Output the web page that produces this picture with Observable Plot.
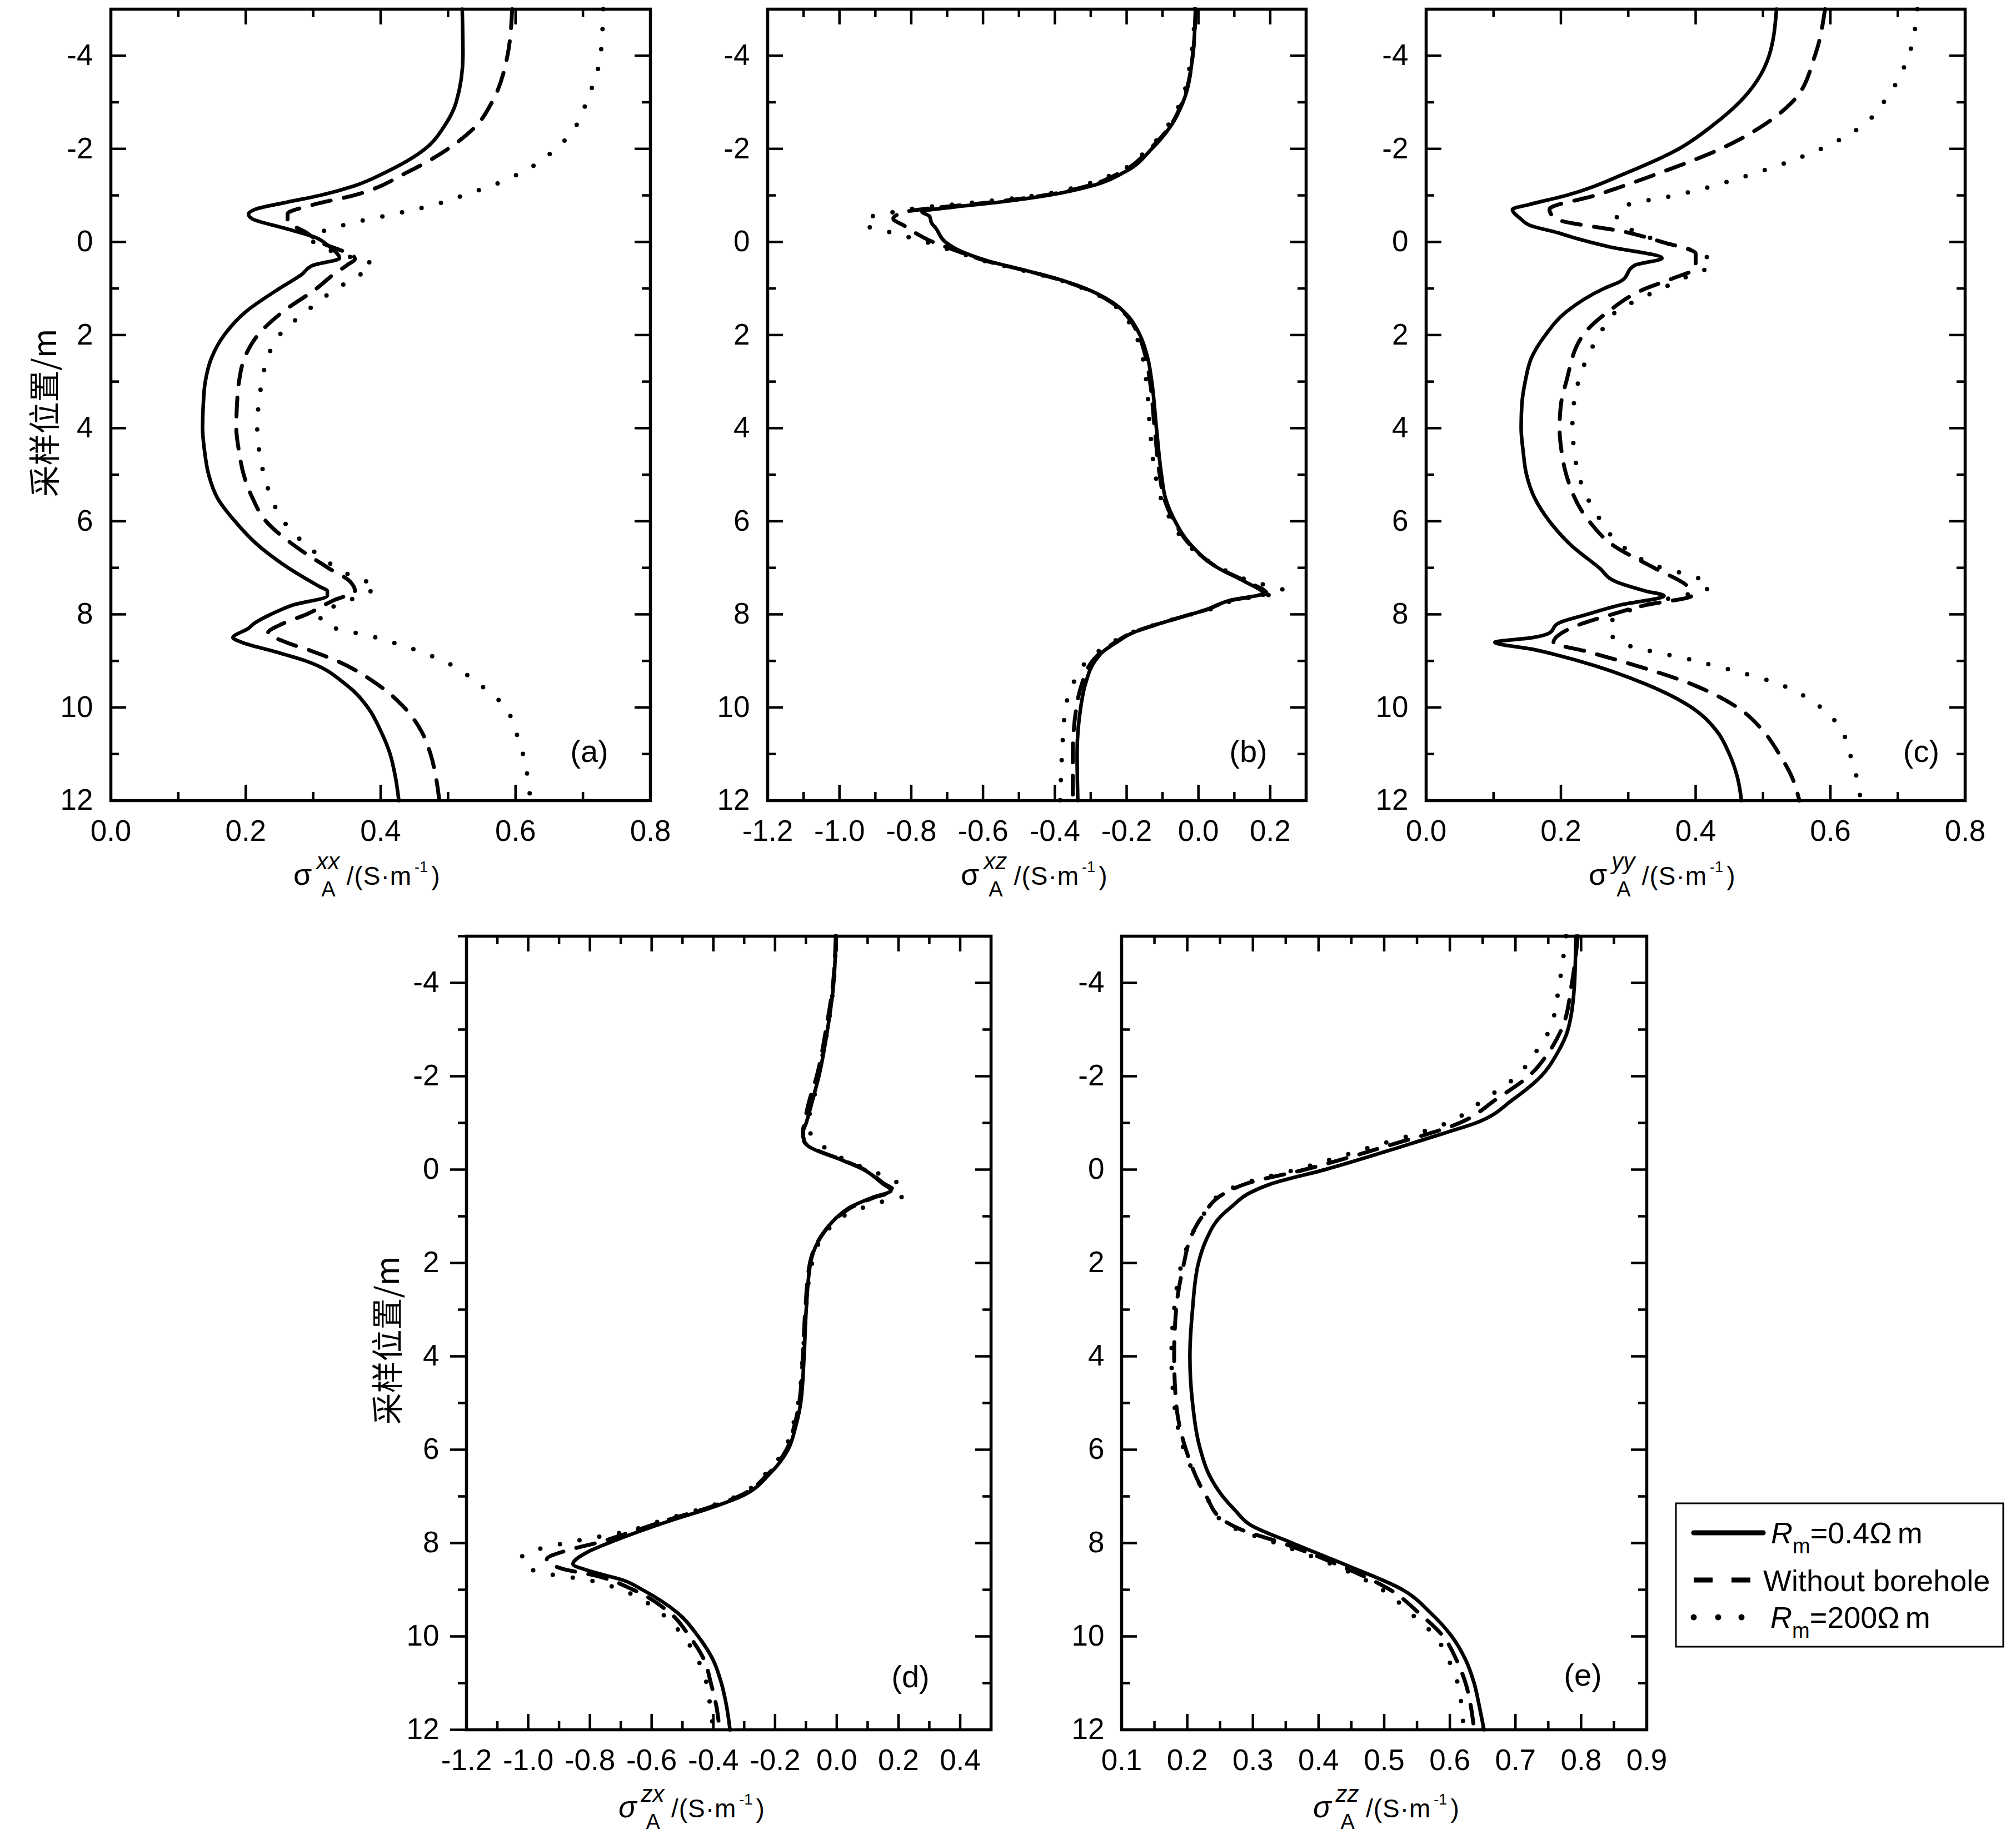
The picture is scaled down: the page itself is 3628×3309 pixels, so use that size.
<!DOCTYPE html>
<html><head><meta charset="utf-8">
<script src="https://cdn.jsdelivr.net/npm/d3@7"></script>
<script src="https://cdn.jsdelivr.net/npm/@observablehq/plot@0.6"></script>
<style>
html,body{margin:0;padding:0;background:#fff;}
#root{position:relative;width:3628px;height:3309px;background:#fff;overflow:hidden;}
</style></head><body><div id="root"></div>
<script>
// ---------- tick values ----------
const depthMajor = [-4,-2,0,2,4,6,8,10,12];
const depthMinor = [-5,-3,-1,1,3,5,7,9,11];
const xMajorAC = [0,0.2,0.4,0.6,0.8];
const xMinorAC = [0.1,0.3,0.5,0.7];
const xMajorB = [-1.2,-1.0,-0.8,-0.6,-0.4,-0.2,0,0.2];
const xMinorB = [-1.1,-0.9,-0.7,-0.5,-0.3,-0.1,0.1,0.3];
const xMajorD = [-1.2,-1.0,-0.8,-0.6,-0.4,-0.2,0,0.2,0.4];
const xMinorD = [-1.1,-0.9,-0.7,-0.5,-0.3,-0.1,0.1,0.3,0.5];
const xMajorE = [0.1,0.2,0.3,0.4,0.5,0.6,0.7,0.8,0.9];
const xMinorE = [0.15,0.25,0.35,0.45,0.55,0.65,0.75,0.85];
const seriesNames = ["Rm=0.4Ωm","Without borehole","Rm=200Ωm"];

// ---------- data: [depth (m), sigma (S/m)] ----------
const aSolid = [[-5,0.521],[-4,0.522],[-3,0.512],[-2.5,0.495],[-2,0.466],[-1.5,0.408],[-1.2,0.36],[-1,0.31],[-0.85,0.26],[-0.7,0.214],[-0.6,0.204],[-0.5,0.209],[-0.3,0.256],[-0.1,0.303],[0.1,0.324],[0.35,0.339],[0.5,0.30],[0.7,0.283],[1,0.25],[1.5,0.20],[2,0.168],[2.5,0.149],[3,0.14],[3.5,0.137],[4,0.136],[4.5,0.139],[5,0.145],[5.5,0.158],[6,0.184],[6.5,0.217],[7,0.263],[7.4,0.309],[7.5,0.321],[7.6,0.321],[7.8,0.27],[8,0.237],[8.2,0.212],[8.3,0.204],[8.5,0.181],[8.6,0.194],[8.8,0.243],[9,0.289],[9.5,0.348],[10,0.381],[10.5,0.40],[11,0.414],[11.5,0.422],[12,0.427]];
const aDashed = [[-5,0.595],[-4,0.588],[-3,0.565],[-2.5,0.542],[-2,0.50],[-1.5,0.44],[-1,0.36],[-0.8,0.30],[-0.6,0.262],[-0.45,0.262],[-0.2,0.29],[0,0.31],[0.36,0.362],[0.5,0.35],[0.7,0.33],[1,0.305],[1.5,0.255],[2,0.218],[2.5,0.198],[3,0.19],[3.5,0.187],[4,0.186],[4.5,0.19],[5,0.197],[5.5,0.21],[6,0.23],[6.5,0.27],[7,0.322],[7.3,0.355],[7.5,0.362],[7.7,0.33],[8,0.29],[8.2,0.255],[8.4,0.233],[8.6,0.26],[8.8,0.30],[9,0.335],[9.5,0.395],[10,0.435],[10.5,0.46],[11,0.474],[11.5,0.482],[12,0.487]];
const aDotted = [[-5,0.73],[-4,0.726],[-3,0.705],[-2.5,0.69],[-2,0.66],[-1.5,0.61],[-1.25,0.572],[-1,0.523],[-0.8,0.48],[-0.6,0.42],[-0.45,0.37],[-0.3,0.33],[-0.1,0.297],[0.1,0.31],[0.3,0.35],[0.49,0.388],[0.7,0.37],[1,0.335],[1.5,0.289],[2,0.25],[2.5,0.232],[3,0.224],[3.5,0.219],[4,0.217],[4.5,0.22],[5,0.227],[5.5,0.238],[6,0.256],[6.5,0.289],[7,0.335],[7.2,0.36],[7.4,0.394],[7.6,0.37],[7.8,0.335],[8,0.31],[8.2,0.315],[8.5,0.394],[9,0.493],[9.5,0.546],[10,0.585],[10.5,0.60],[11,0.611],[11.5,0.618],[12,0.622]];

const bSolid = [[-5,-0.008],[-4,-0.016],[-3,-0.043],[-2.5,-0.076],[-2,-0.13],[-1.5,-0.206],[-1.2,-0.30],[-1,-0.42],[-0.85,-0.56],[-0.75,-0.68],[-0.65,-0.77],[-0.55,-0.749],[-0.4,-0.743],[-0.3,-0.732],[0,-0.705],[0.2,-0.662],[0.4,-0.59],[0.6,-0.488],[0.8,-0.39],[1,-0.315],[1.3,-0.239],[1.6,-0.195],[2,-0.163],[2.5,-0.141],[3,-0.13],[4,-0.117],[5,-0.103],[5.5,-0.092],[6,-0.065],[6.5,-0.022],[7,0.054],[7.3,0.13],[7.55,0.18],[7.7,0.087],[7.9,0.022],[8,-0.022],[8.2,-0.109],[8.4,-0.184],[8.6,-0.228],[8.8,-0.266],[9,-0.288],[9.5,-0.315],[10,-0.328],[11,-0.338],[12,-0.336]];
const bDashed = [[-5,-0.008],[-4,-0.016],[-3,-0.045],[-2.5,-0.078],[-2,-0.135],[-1.5,-0.215],[-1.2,-0.31],[-1,-0.43],[-0.85,-0.58],[-0.72,-0.75],[-0.65,-0.815],[-0.5,-0.85],[-0.35,-0.82],[-0.2,-0.79],[0,-0.74],[0.2,-0.67],[0.4,-0.595],[0.6,-0.49],[0.8,-0.392],[1,-0.317],[1.3,-0.242],[1.6,-0.198],[2,-0.167],[2.5,-0.146],[3,-0.135],[4,-0.122],[5,-0.108],[5.5,-0.096],[6,-0.068],[6.5,-0.024],[7,0.055],[7.3,0.135],[7.55,0.19],[7.7,0.09],[7.9,0.022],[8,-0.022],[8.2,-0.11],[8.4,-0.186],[8.6,-0.232],[8.8,-0.27],[9,-0.295],[9.5,-0.325],[10,-0.34],[11,-0.35],[12,-0.35]];
const bDotted = [[-5,-0.01],[-4,-0.02],[-3,-0.05],[-2.5,-0.085],[-2,-0.14],[-1.5,-0.225],[-1.2,-0.33],[-1,-0.45],[-0.85,-0.62],[-0.72,-0.79],[-0.6,-0.875],[-0.5,-0.93],[-0.35,-0.925],[-0.23,-0.87],[0,-0.76],[0.2,-0.68],[0.4,-0.60],[0.6,-0.495],[0.8,-0.395],[1,-0.32],[1.3,-0.245],[1.6,-0.205],[2,-0.175],[2.5,-0.155],[3,-0.145],[4,-0.135],[5,-0.12],[5.5,-0.105],[6,-0.075],[6.5,-0.03],[7,0.06],[7.3,0.15],[7.5,0.24],[7.7,0.10],[7.9,0.03],[8,-0.02],[8.2,-0.11],[8.4,-0.19],[8.6,-0.24],[8.8,-0.28],[9,-0.31],[9.5,-0.35],[10,-0.37],[11,-0.38],[12,-0.385]];

const cSolid = [[-5,0.52],[-4,0.509],[-3,0.465],[-2.5,0.425],[-2,0.375],[-1.5,0.30],[-1,0.208],[-0.8,0.152],[-0.7,0.128],[-0.5,0.14],[-0.35,0.155],[-0.2,0.195],[-0.1,0.217],[0.1,0.27],[0.35,0.35],[0.5,0.31],[0.85,0.288],[1,0.264],[1.5,0.208],[2,0.177],[2.5,0.156],[3,0.147],[3.5,0.142],[4,0.141],[4.5,0.144],[5,0.149],[5.5,0.161],[6,0.183],[6.5,0.214],[7,0.257],[7.3,0.282],[7.5,0.326],[7.6,0.353],[7.8,0.288],[8,0.239],[8.2,0.195],[8.4,0.183],[8.5,0.158],[8.6,0.102],[8.75,0.158],[9,0.226],[9.5,0.326],[10,0.394],[10.5,0.431],[11,0.45],[11.5,0.462],[12,0.468]];
const cDashed = [[-5,0.592],[-4,0.577],[-3,0.543],[-2.5,0.50],[-2,0.437],[-1.5,0.35],[-1,0.251],[-0.7,0.183],[-0.5,0.192],[-0.2,0.30],[0,0.35],[0.25,0.40],[0.55,0.40],[0.8,0.363],[1,0.326],[1.5,0.27],[2,0.233],[3,0.208],[3.5,0.2],[4,0.198],[4.5,0.201],[5,0.208],[6,0.242],[6.5,0.276],[7,0.338],[7.4,0.388],[7.6,0.394],[7.8,0.326],[8,0.276],[8.3,0.214],[8.6,0.189],[8.8,0.239],[9,0.288],[9.5,0.394],[10,0.462],[10.5,0.50],[11,0.524],[11.5,0.543],[12,0.554]];
const cDotted = [[-5,0.729],[-4,0.716],[-3,0.679],[-2.5,0.648],[-2,0.586],[-1.5,0.493],[-1,0.369],[-0.8,0.30],[-0.6,0.282],[-0.3,0.30],[0,0.35],[0.2,0.40],[0.5,0.425],[0.7,0.394],[1,0.35],[1.5,0.282],[2,0.257],[3,0.226],[3.5,0.219],[4,0.217],[4.5,0.22],[5,0.226],[6,0.26],[6.5,0.288],[7,0.35],[7.2,0.40],[7.4,0.422],[7.7,0.35],[8,0.288],[8.3,0.27],[8.6,0.288],[9,0.40],[9.5,0.524],[10,0.586],[10.5,0.617],[11,0.629],[11.5,0.639],[12,0.645]];

const dSolid = [[-5,-0.003],[-4,-0.01],[-3,-0.03],[-2,-0.058],[-1.5,-0.078],[-1,-0.099],[-0.8,-0.109],[-0.6,-0.106],[-0.5,-0.092],[-0.2,0.018],[0,0.087],[0.3,0.148],[0.45,0.176],[0.6,0.114],[0.8,0.045],[1,0.004],[1.3,-0.037],[1.6,-0.065],[2,-0.085],[3,-0.099],[4,-0.106],[5,-0.117],[5.5,-0.133],[6,-0.158],[6.5,-0.215],[7,-0.31],[7.25,-0.41],[7.5,-0.53],[7.75,-0.64],[8,-0.74],[8.2,-0.81],[8.45,-0.855],[8.6,-0.80],[8.8,-0.69],[9,-0.63],[9.5,-0.515],[10,-0.449],[10.5,-0.401],[11,-0.374],[11.5,-0.357],[12,-0.346]];
const dDashed = [[-5,-0.003],[-4,-0.012],[-3,-0.035],[-2,-0.065],[-1.5,-0.088],[-1,-0.105],[-0.8,-0.11],[-0.6,-0.105],[-0.5,-0.09],[-0.2,0.02],[0,0.09],[0.3,0.153],[0.45,0.185],[0.6,0.12],[0.8,0.05],[1,0.006],[1.3,-0.037],[1.6,-0.066],[2,-0.087],[3,-0.102],[4,-0.11],[5,-0.122],[5.5,-0.138],[6,-0.163],[6.5,-0.22],[7,-0.318],[7.25,-0.42],[7.5,-0.545],[7.75,-0.66],[8,-0.78],[8.15,-0.87],[8.35,-0.94],[8.55,-0.89],[8.7,-0.78],[9,-0.66],[9.5,-0.54],[10,-0.477],[10.5,-0.43],[11,-0.408],[11.5,-0.39],[12,-0.38]];
const dDotted = [[-5,-0.003],[-4,-0.01],[-3,-0.03],[-2,-0.06],[-1.5,-0.075],[-1,-0.092],[-0.7,-0.08],[-0.5,-0.045],[-0.2,0.03],[0.1,0.14],[0.3,0.20],[0.55,0.22],[0.7,0.14],[0.9,0.05],[1,0.02],[1.3,-0.03],[1.6,-0.06],[2,-0.08],[3,-0.10],[4,-0.11],[5,-0.125],[5.5,-0.143],[6,-0.17],[6.5,-0.228],[7,-0.325],[7.25,-0.43],[7.5,-0.56],[7.75,-0.68],[7.95,-0.84],[8.1,-0.95],[8.3,-1.02],[8.5,-1.01],[8.65,-0.944],[8.8,-0.80],[9,-0.70],[9.5,-0.57],[10,-0.497],[10.5,-0.45],[11,-0.422],[11.5,-0.41],[12,-0.40]];

const eSolid = [[-5,0.792],[-4,0.79],[-3,0.78],[-2.5,0.764],[-2,0.739],[-1.5,0.696],[-1,0.64],[-0.8,0.596],[-0.5,0.528],[0,0.41],[0.3,0.329],[0.5,0.295],[0.8,0.267],[1,0.251],[1.5,0.229],[2,0.217],[3,0.208],[4,0.204],[5,0.208],[6,0.22],[6.5,0.232],[7,0.254],[7.3,0.273],[7.6,0.295],[8,0.36],[8.5,0.447],[9,0.528],[9.5,0.571],[10,0.603],[10.5,0.624],[11,0.637],[11.5,0.645],[12,0.652]];
const eDashed = [[-5,0.795],[-4,0.786],[-3,0.77],[-2.5,0.75],[-2,0.72],[-1.5,0.67],[-1,0.615],[-0.5,0.503],[0,0.379],[0.3,0.29],[0.5,0.258],[1,0.223],[1.5,0.204],[2,0.195],[3,0.183],[4,0.18],[5,0.183],[6,0.198],[7,0.229],[7.5,0.254],[7.7,0.28],[8,0.345],[8.5,0.435],[9,0.509],[9.5,0.553],[10,0.59],[10.5,0.61],[11,0.624],[11.5,0.632],[12,0.637]];
const eDotted = [[-5,0.777],[-4,0.767],[-3,0.752],[-2.5,0.73],[-2,0.702],[-1.5,0.652],[-1,0.596],[-0.5,0.484],[0,0.366],[0.3,0.285],[0.5,0.254],[1,0.223],[2,0.192],[3,0.18],[4,0.176],[5,0.18],[6,0.195],[7,0.229],[7.5,0.251],[7.7,0.275],[8,0.335],[8.5,0.428],[9,0.497],[9.5,0.54],[10,0.578],[10.5,0.598],[11,0.612],[11.5,0.618],[12,0.621]];

// ---------- panels ----------
const panels = [
  {tag:"(a)", left:199, top:16, W:971, H:1424, xDomain:[0,0.8], xMajor:xMajorAC, xMinor:xMinorAC, solid:aSolid, dashed:aDashed, dotted:aDotted, tagDx:110, tagDy:70, yPad:32, outLeft:false},
  {tag:"(b)", left:1381, top:16, W:969, H:1424, xDomain:[-1.2,0.3], xMajor:xMajorB, xMinor:xMinorB, solid:bSolid, dashed:bDashed, dotted:bDotted, tagDx:104, tagDy:70, yPad:32, outLeft:false},
  {tag:"(c)", left:2566, top:16, W:970, H:1424, xDomain:[0,0.8], xMajor:xMajorAC, xMinor:xMinorAC, solid:cSolid, dashed:cDashed, dotted:cDotted, tagDx:79, tagDy:70, yPad:32, outLeft:false},
  {tag:"(d)", left:839, top:1684, W:944, H:1428, xDomain:[-1.2,0.5], xMajor:xMajorD, xMinor:xMinorD, solid:dSolid, dashed:dDashed, dotted:dDotted, tagDx:145, tagDy:77, yPad:49, outLeft:true},
  {tag:"(e)", left:2018, top:1684, W:945, H:1428, xDomain:[0.1,0.9], xMajor:xMajorE, xMinor:xMinorE, solid:eSolid, dashed:eDashed, dotted:eDotted, tagDx:115, tagDy:80, yPad:31, outLeft:false}
];

const root = document.getElementById("root");
const FONT = "'Liberation Sans', Arial, Helvetica, sans-serif";

function makePanel(p) {
  const ml = 230, mr = 40, mt = 40, mb = 120;
  const W = p.W, H = p.H;
  const major = 28, minor = 15, tw = 4.5;
  const acc = {x: d => d[1], y: d => d[0], curve: "monotone-y", stroke: "black", fill: "none"};
  const tk = {stroke: "black", strokeWidth: tw};
  const leftTicks = p.outLeft
    ? [Plot.ruleY(depthMajor, {...tk, insetLeft: -29, insetRight: W}),
       Plot.ruleY(depthMinor, {...tk, insetLeft: -15, insetRight: W})]
    : [Plot.ruleY(depthMajor, {...tk, insetRight: W - major}),
       Plot.ruleY(depthMinor, {...tk, insetRight: W - minor})];
  const svg = Plot.plot({
    width: W + ml + mr, height: H + mt + mb,
    marginLeft: ml, marginRight: mr, marginTop: mt, marginBottom: mb,
    x: {domain: p.xDomain},
    y: {domain: [-5, 12], reverse: true},
    style: {fontFamily: FONT, fontSize: "53px", color: "black", background: "transparent", overflow: "visible"},
    marks: [
      Plot.line(p.dotted, {...acc, strokeWidth: 8, strokeDasharray: "0 36", strokeLinecap: "round"}),
      Plot.line(p.dashed, {...acc, strokeWidth: 7, strokeDasharray: "34 24"}),
      Plot.line(p.solid, {...acc, strokeWidth: 6.5, strokeLinejoin: "round"}),
      Plot.ruleX(p.xMajor, {...tk, insetTop: H - major}),
      Plot.ruleX(p.xMajor, {...tk, insetBottom: H - major}),
      Plot.ruleX(p.xMinor, {...tk, insetTop: H - minor}),
      Plot.ruleX(p.xMinor, {...tk, insetBottom: H - minor}),
      Plot.ruleY(depthMajor, {...tk, insetLeft: W - major}),
      Plot.ruleY(depthMinor, {...tk, insetLeft: W - minor}),
      ...leftTicks,
      Plot.frame({stroke: "black", strokeWidth: 5.5}),
      Plot.axisX({ticks: p.xMajor, tickSize: 0, tickPadding: 35, tickFormat: d => d.toFixed(1), label: null}),
      Plot.axisY({ticks: depthMajor, tickSize: 0, tickPadding: p.yPad, tickFormat: d => String(d), label: null}),
      Plot.text([p.tag], {text: d => d, frameAnchor: "bottom-right", dx: -p.tagDx, dy: -p.tagDy, textAnchor: "middle", lineAnchor: "bottom", fontSize: 56})
    ]
  });
  svg.style.position = "absolute";
  svg.style.left = (p.left - ml) + "px";
  svg.style.top = (p.top - mt) + "px";
  root.appendChild(svg);
}
panels.forEach(makePanel);

// ---------- axis titles and legend (overlay) ----------
const xTitles = [
  {cx:664, base:1592, sup:"xx", it:false},
  {cx:1865, base:1592, sup:"xz", it:false},
  {cx:2995, base:1592, sup:"yy", it:false},
  {cx:1249, base:3270, sup:"zx", it:true},
  {cx:2499, base:3270, sup:"zz", it:true}
];
const yTitles = [{cx:76, cy:743}, {cx:693, cy:2412}];

let ov = `<svg xmlns="http://www.w3.org/2000/svg" width="3628" height="3309" style="position:absolute;left:0;top:0" font-family="${FONT}" fill="black">`;
for (const t of xTitles) {
  const s = t.cx - 136;
  ov += `<text x="${s}" y="${t.base}" font-size="46">` +
    `<tspan font-style="${t.it ? "italic" : "normal"}" font-size="54">σ</tspan>` +
    `<tspan font-style="italic" font-size="42" dx="8" dy="-28">${t.sup}</tspan>` +
    `<tspan font-size="38" dx="-33" dy="49">A</tspan>` +
    `<tspan dx="20" dy="-21" letter-spacing="1">/(S·m</tspan>` +
    `<tspan font-size="27" dx="5" dy="-23">-1</tspan>` +
    `<tspan dx="6" dy="23">)</tspan></text>`;
}
for (const t of yTitles) {
  ov += `<text transform="translate(${t.cx},${t.cy}) rotate(-90)" text-anchor="middle" dominant-baseline="central" font-size="57" font-family="'Noto Sans CJK SC', sans-serif">采样位置/m</text>`;
}
// legend
ov += `<rect x="3016" y="2705" width="589" height="258" fill="white" stroke="black" stroke-width="3"/>`;
ov += `<line x1="3048" x2="3173" y1="2758" y2="2758" stroke="black" stroke-width="9" stroke-linecap="round"/>`;
ov += `<line x1="3048" x2="3150" y1="2843" y2="2843" stroke="black" stroke-width="9" stroke-dasharray="34 34"/>`;
for (const cx of [3048, 3092, 3134]) ov += `<circle cx="${cx}" cy="2910" r="5.5" fill="black"/>`;
ov += `<text x="3187" y="2777" font-size="54"><tspan font-style="italic">R</tspan><tspan font-size="38" dy="18">m</tspan><tspan dy="-18">=0.4Ω</tspan><tspan dx="10">m</tspan></text>`;
ov += `<text x="3173" y="2863" font-size="54">${seriesNames[1]}</text>`;
ov += `<text x="3186" y="2929" font-size="54"><tspan font-style="italic">R</tspan><tspan font-size="38" dy="18">m</tspan><tspan dy="-18">=200Ω</tspan><tspan dx="10">m</tspan></text>`;
ov += `</svg>`;
root.insertAdjacentHTML("beforeend", ov);
</script></body></html>
